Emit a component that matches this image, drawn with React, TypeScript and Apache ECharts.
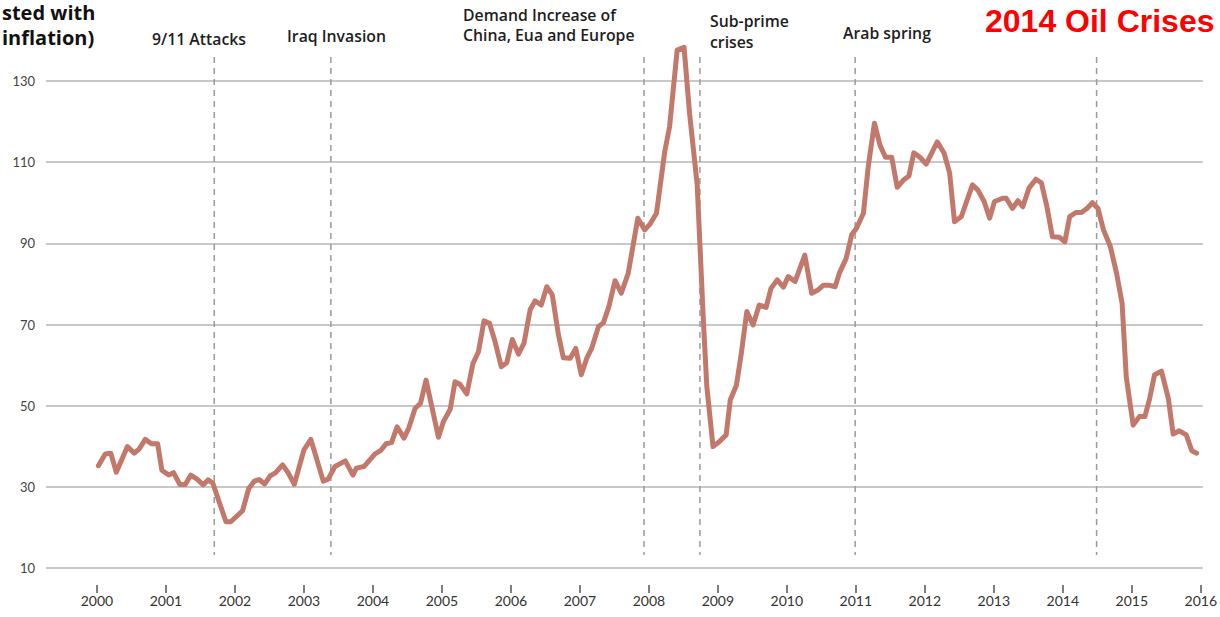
import React, { useEffect, useRef } from "react";
import * as echarts from "echarts";

const yearTicks = [2000, 2001, 2002, 2003, 2004, 2005, 2006, 2007, 2008, 2009, 2010, 2011, 2012, 2013, 2014, 2015, 2016];

const dates = [
  2000.02, 2000.12, 2000.20, 2000.28, 2000.44, 2000.54, 2000.61, 2000.70, 2000.79, 2000.88, 2000.94,
  2001.04, 2001.11, 2001.20, 2001.28, 2001.36, 2001.45, 2001.54, 2001.61, 2001.68, 2001.76, 2001.87, 2001.94,
  2002.11, 2002.20, 2002.28, 2002.35, 2002.43, 2002.51, 2002.59, 2002.69, 2002.77, 2002.86,
  2003.00, 2003.10, 2003.28, 2003.35, 2003.45, 2003.60, 2003.71, 2003.76, 2003.87,
  2004.03, 2004.11, 2004.19, 2004.27, 2004.35, 2004.45, 2004.52, 2004.61, 2004.69, 2004.77, 2004.95,
  2005.02, 2005.12, 2005.19, 2005.26, 2005.36, 2005.45, 2005.53, 2005.61, 2005.69, 2005.77, 2005.86, 2005.94,
  2006.02, 2006.11, 2006.19, 2006.28, 2006.35, 2006.44, 2006.52, 2006.60, 2006.69, 2006.76, 2006.86, 2006.94,
  2007.02, 2007.10, 2007.17, 2007.27, 2007.34, 2007.42, 2007.51, 2007.60, 2007.70, 2007.84, 2007.94,
  2008.02, 2008.11, 2008.23, 2008.30, 2008.41, 2008.51, 2008.59, 2008.70, 2008.79, 2008.84, 2008.93,
  2009.02, 2009.12, 2009.18, 2009.27, 2009.34, 2009.42, 2009.51, 2009.60, 2009.70, 2009.77, 2009.86, 2009.95,
  2010.02, 2010.12, 2010.26, 2010.36, 2010.45, 2010.53, 2010.61, 2010.70, 2010.76, 2010.86, 2010.94,
  2011.01, 2011.11, 2011.18, 2011.27, 2011.35, 2011.43, 2011.52, 2011.60, 2011.69, 2011.77, 2011.84, 2011.93,
  2012.02, 2012.18, 2012.28, 2012.36, 2012.43, 2012.53, 2012.69, 2012.77, 2012.86, 2012.94,
  2013.01, 2013.13, 2013.18, 2013.27, 2013.35, 2013.42, 2013.51, 2013.61, 2013.69, 2013.77, 2013.85, 2013.95,
  2014.03, 2014.10, 2014.19, 2014.27, 2014.35, 2014.43, 2014.51, 2014.59, 2014.69, 2014.78, 2014.86, 2014.92,
  2015.02, 2015.11, 2015.19, 2015.26, 2015.33, 2015.43, 2015.53, 2015.60, 2015.69, 2015.79, 2015.87, 2015.94,
];

const prices = [
  35.2, 38.1, 38.3, 33.6, 39.9, 38.3, 39.3, 41.7, 40.6, 40.6, 34.1,
  32.9, 33.5, 30.6, 30.6, 32.9, 31.9, 30.5, 31.7, 30.9, 26.8, 21.4, 21.4,
  24.1, 29.6, 31.4, 31.8, 30.7, 32.7, 33.5, 35.4, 33.5, 30.6,
  39.1, 41.7, 31.4, 31.9, 35.0, 36.4, 32.9, 34.6, 35.0,
  38.1, 38.9, 40.6, 40.9, 44.8, 42.0, 44.5, 49.3, 50.6, 56.3, 42.2,
  46.0, 49.1, 55.9, 55.3, 52.9, 60.4, 63.3, 70.9, 70.3, 65.8, 59.6, 60.6,
  66.3, 62.7, 65.4, 73.7, 75.8, 74.8, 79.3, 77.3, 67.4, 61.8, 61.7, 64.1,
  57.6, 61.7, 64.1, 69.5, 70.4, 74.4, 80.8, 77.7, 82.6, 96.2, 93.3,
  94.8, 97.4, 112.6, 118.7, 137.6, 138.3, 122.0, 104.5, 71.1, 54.7, 39.9,
  41.1, 42.8, 51.4, 55.1, 62.9, 73.2, 69.9, 74.8, 74.2, 78.9, 81.0, 79.2,
  81.8, 80.6, 87.1, 77.7, 78.5, 79.7, 79.7, 79.3, 82.6, 86.3, 92.1,
  93.7, 97.4, 108.9, 119.6, 114.2, 111.2, 111.2, 103.8, 105.6, 106.6, 112.3, 111.2,
  109.5, 115.0, 112.2, 107.3, 95.3, 96.6, 104.4, 103.1, 100.3, 96.2,
  100.3, 101.1, 101.1, 98.6, 100.5, 99.0, 103.6, 105.8, 104.9, 99.0, 91.6, 91.5,
  90.4, 96.6, 97.6, 97.6, 98.6, 100.0, 98.6, 93.3, 89.2, 82.6, 75.2, 57.1,
  45.2, 47.3, 47.3, 51.8, 57.6, 58.5, 51.8, 43.0, 43.8, 42.8, 38.9, 38.3,
];

const eventDates = [2001.70, 2003.39, 2007.93, 2008.74, 2010.99, 2014.49];
const eventTop = 135.9;
const eventBottom = 13.2;

const annotations = [
  { text: "9/11 Attacks", x: 152, y: 39 },
  { text: "Iraq Invasion", x: 287, y: 36 },
  { text: "Demand Increase of\nChina, Eua and Europe", x: 463, y: 25, lh: 20 },
  { text: "Sub-prime\ncrises", x: 710, y: 31.5, lh: 21 },
  { text: "Arab spring", x: 843, y: 33 },
];

export default function App() {
  const ref = useRef<HTMLDivElement>(null);

  useEffect(() => {
    document.body.style.margin = "0";
    if (!ref.current) return;
    const chart = echarts.init(ref.current, null, { renderer: "svg" });

    const lineData = dates.map((d, i) => [d, prices[i]]);
    const eventData = eventDates.map((d) => [d]);

    const graphics: any[] = annotations.map((a) => ({
      type: "text",
      x: a.x,
      y: a.y,
      style: {
        text: a.text,
        fill: "#1e1e1e",
        font: "600 15.8px 'Open Sans'",
        verticalAlign: "middle",
        align: "left",
        lineHeight: a.lh || 20,
      },
    }));
    graphics.push({
      type: "text",
      x: 2,
      y: 25,
      style: {
        text: "sted with\ninflation)",
        fill: "#111",
        font: "bold 20px 'Open Sans'",
        verticalAlign: "middle",
        align: "left",
        lineHeight: 25,
      },
    });
    graphics.push({
      type: "text",
      x: 985,
      y: 21,
      style: {
        text: "2014 Oil Crises",
        fill: "#ff0000",
        font: "bold 32px 'Liberation Sans'",
        verticalAlign: "middle",
        align: "left",
      },
    });

    chart.setOption({
      animation: false,
      backgroundColor: "#ffffff",
      grid: { left: 46, right: 17, top: 81, bottom: 49, containLabel: false },
      xAxis: {
        type: "value",
        min: 2000 - 51 / 69,
        max: 2016.03,
        axisLine: { show: false },
        offset: 17,
        splitLine: { show: false },
        axisTick: {
          show: true,
          length: 8,
          customValues: yearTicks,
          lineStyle: { color: "#555", width: 1.5 },
        },
        axisLabel: {
          customValues: yearTicks,
          margin: 8,
          fontSize: 14,
          fontFamily: "Lato",
          color: "#333",
          formatter: (v: number) => String(Math.round(v)),
        },
      },
      yAxis: {
        type: "value",
        min: 10,
        max: 130,
        interval: 20,
        axisLine: { show: false },
        axisTick: { show: false },
        axisLabel: { margin: 11, fontSize: 13, fontFamily: "Lato", color: "#444" },
        splitLine: { lineStyle: { color: "#c8c8c8", width: 2 } },
      },
      graphic: graphics,
      series: [
        {
          type: "custom",
          clip: false,
          silent: true,
          data: eventData,
          renderItem: (params: any, api: any) => {
            const d = api.value(0);
            const p1 = api.coord([d, eventTop]);
            const p2 = api.coord([d, eventBottom]);
            return {
              type: "line",
              shape: { x1: p1[0], y1: p1[1], x2: p2[0], y2: p2[1] },
              style: { stroke: "#9a9a9a", lineWidth: 1.5, lineDash: [6, 5] },
            };
          },
        },
        {
          type: "line",
          data: lineData,
          showSymbol: false,
          clip: false,
          lineStyle: { color: "#c2786b", width: 5, cap: "round", join: "round" },
        },
      ],
    });

    return () => chart.dispose();
  }, []);

  return <div ref={ref} style={{ width: 1220, height: 617 }} />;
}
